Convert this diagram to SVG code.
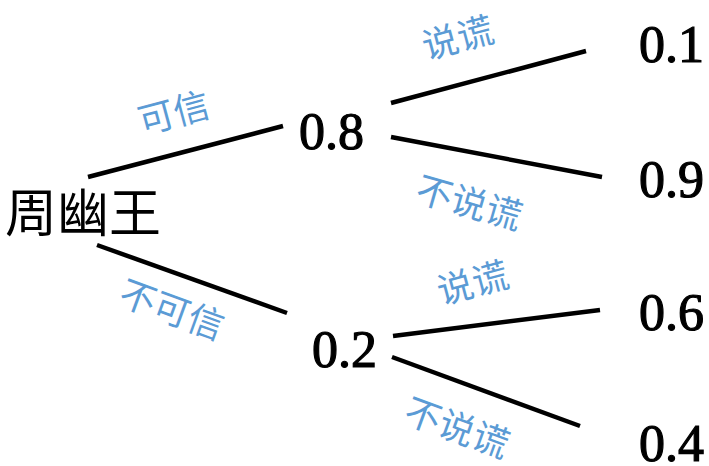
<svg xmlns="http://www.w3.org/2000/svg" width="709" height="466" viewBox="0 0 709 466">
<style>
.edge{stroke:#000;stroke-width:4.5;stroke-linecap:butt;fill:none}
.num{font-family:"Liberation Serif","Times New Roman",serif;font-size:52px;fill:#000;stroke:#000;stroke-width:1.2}
.root{font-family:"Noto Sans CJK SC",sans-serif;font-size:52px;fill:#000}
.lbl{font-family:"Noto Sans CJK SC",sans-serif;font-size:36px;fill:#5b9bd5;text-anchor:middle;dominant-baseline:central}
</style>
<rect width="709" height="466" fill="#fff"/>
<g id="connectors">
<line class="edge" x1="88" y1="177" x2="283" y2="126"/>
<line class="edge" x1="97" y1="245" x2="287" y2="313"/>
<line class="edge" x1="391" y1="103" x2="586" y2="51"/>
<line class="edge" x1="391" y1="137" x2="602" y2="177"/>
<line class="edge" x1="393" y1="336" x2="600" y2="310"/>
<line class="edge" x1="392" y1="357" x2="580" y2="426"/>
<text class="lbl" transform="translate(173,110) rotate(-15)">可信</text>
<text class="lbl" transform="translate(173,307) rotate(20)">不可信</text>
<text class="lbl" transform="translate(457,35) rotate(-15)">说谎</text>
<text class="lbl" transform="translate(470,200) rotate(16)">不说谎</text>
<text class="lbl" transform="translate(472,280) rotate(-15)">说谎</text>
<text class="lbl" transform="translate(458,425) rotate(20)">不说谎</text>
</g>
<g id="root"><text class="root" x="5" y="232">周幽王</text></g>
<g id="n08"><text class="num" x="299" y="149">0.8</text></g>
<g id="n02"><text class="num" x="312" y="367">0.2</text></g>
<g id="n01"><text class="num" x="639" y="62">0.1</text></g>
<g id="n09"><text class="num" x="639" y="197">0.9</text></g>
<g id="n06"><text class="num" x="639" y="330">0.6</text></g>
<g id="n04"><text class="num" x="639" y="461">0.4</text></g>
</svg>
